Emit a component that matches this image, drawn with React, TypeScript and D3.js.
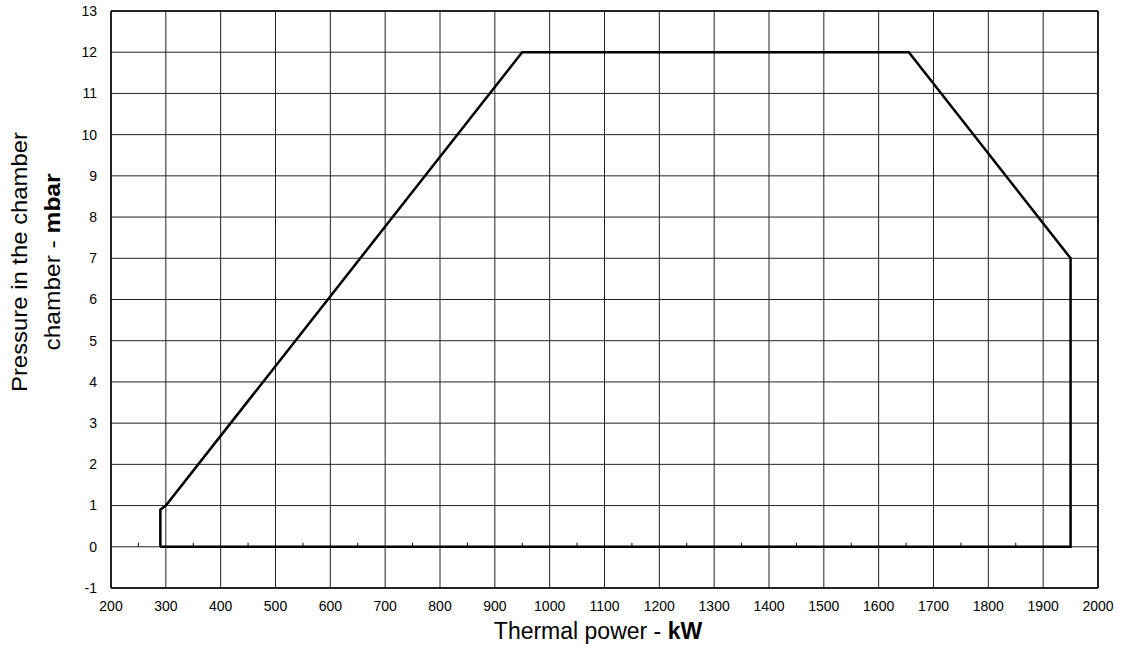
import React from "react";
import * as d3 from "d3";

const xTicks = [200, 300, 400, 500, 600, 700, 800, 900, 1000, 1100, 1200, 1300, 1400, 1500, 1600, 1700, 1800, 1900, 2000];
const yTicks = [-1, 0, 1, 2, 3, 4, 5, 6, 7, 8, 9, 10, 11, 12, 13];
const minorXTicks = [250, 350, 450, 550, 650, 750, 850, 950, 1050, 1150, 1250, 1350, 1450, 1550, 1650, 1750, 1850, 1950];
const powerKW = [290, 290, 300, 950, 1655, 1950, 1950, 290];
const pressureMbar = [0, 0.9, 1.0, 12, 12, 7, 0, 0];

const W = 1123, H = 650;
const M = { left: 111, right: 1098, top: 11, bottom: 588 };

export default function App() {
  const x = d3.scaleLinear().domain([200, 2000]).range([M.left, M.right]);
  const y = d3.scaleLinear().domain([-1, 13]).range([M.bottom, M.top]);
  const pts: [number, number][] = powerKW.map((p, i) => [p, pressureMbar[i]]);
  const line = d3.line<[number, number]>().x(d => x(d[0])).y(d => y(d[1]));
  const font = "'Liberation Sans', Arial, sans-serif";
  return (
    <svg width={W} height={H} style={{ position: "absolute", left: 0, top: 0, background: "#fff" }} fontFamily={font}>
      <rect x={0} y={0} width={W} height={H} fill="#fff" />
      {xTicks.map(t => (
        <line key={"gx" + t} x1={x(t)} x2={x(t)} y1={y(13)} y2={y(-1)} stroke="#222" strokeWidth={1} />
      ))}
      {yTicks.map(t => (
        <line key={"gy" + t} x1={x(200)} x2={x(2000)} y1={y(t)} y2={y(t)} stroke="#222" strokeWidth={1} />
      ))}
      {minorXTicks.map(t => (
        <line key={"mx" + t} x1={x(t)} x2={x(t)} y1={y(0)} y2={y(0) - 4} stroke="#000" strokeWidth={1} />
      ))}
      <line x1={x(200)} x2={x(200)} y1={y(13)} y2={y(-1)} stroke="#000" strokeWidth={1.5} />
      <line x1={x(200)} x2={x(2000)} y1={y(-1)} y2={y(-1)} stroke="#000" strokeWidth={1.5} />
      <line x1={x(2000)} x2={x(2000)} y1={y(13)} y2={y(-1)} stroke="#000" strokeWidth={1.5} />
      <line x1={x(200)} x2={x(2000)} y1={y(13)} y2={y(13)} stroke="#000" strokeWidth={1.5} />
      <path d={line(pts) || ""} fill="none" stroke="#000" strokeWidth={2.5} strokeLinejoin="miter" />
      {yTicks.map(t => (
        <text key={"ly" + t} x={x(200) - 14} y={y(t)} dy="0.35em" textAnchor="end" fontSize={14} fill="#000">{t}</text>
      ))}
      {xTicks.map(t => (
        <text key={"lx" + t} x={x(t)} y={y(-1) + 23} textAnchor="middle" fontSize={14} fill="#000">{t}</text>
      ))}
      <text x={598} y={639} textAnchor="middle" fontSize={23} fill="#000">
        Thermal power - <tspan fontWeight="bold">kW</tspan>
      </text>
      <g transform={`translate(27, 262) rotate(-90)`}>
        <text x={0} y={0} textAnchor="middle" fontSize={22} fill="#000" textLength={260} lengthAdjust="spacingAndGlyphs">Pressure in the chamber</text>
        <text x={0} y={33} textAnchor="middle" fontSize={22} fill="#000" textLength={177} lengthAdjust="spacingAndGlyphs">
          chamber - <tspan fontWeight="bold">mbar</tspan>
        </text>
      </g>
    </svg>
  );
}
